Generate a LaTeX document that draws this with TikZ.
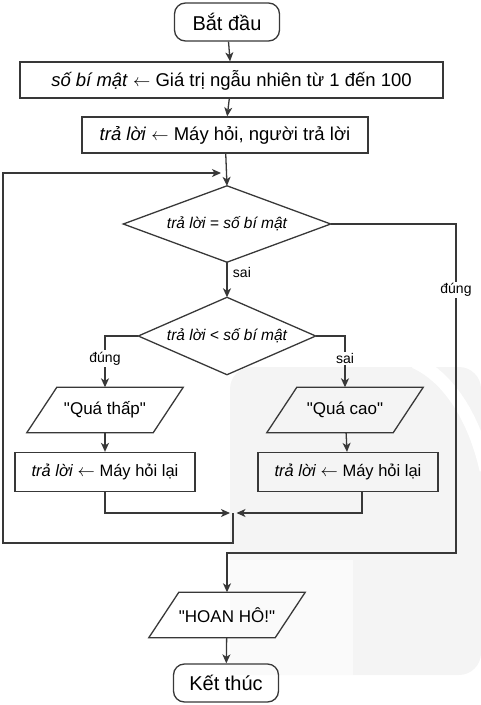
\documentclass[tikz,border=0pt]{standalone}
\usepackage{fontspec}
\setmainfont{Liberation Sans}[Ligatures=TeXOff]
\usetikzlibrary{arrows.meta,calc}
\newcommand\drawio[1]{\draw[line] ($(#1.north west)+(15,0)$) -- ($(#1.north east)+(15,0)$) -- ($(#1.south east)-(15,0)$) -- ($(#1.south west)-(15,0)$) -- cycle;}
\newcommand\drawdia[1]{\draw[line] (#1.west) -- (#1.north) -- (#1.east) -- (#1.south) -- cycle;}
\newcommand\larr{\ $\leftarrow$\ }
\begin{document}
\begin{tikzpicture}[x=1pt,y=-1pt,
  line/.style={draw=black!78, line width=1.3pt, line join=miter},
  arr/.style={draw=black!78, line width=1.3pt, -{Stealth[length=9pt,width=8pt,inset=2.5pt]}},
  term/.style={line, rectangle, rounded corners=11pt, minimum width=105pt, minimum height=38pt, inner sep=0pt, font=\fontsize{20}{24}\selectfont},
  proc/.style={line, rectangle, minimum height=36pt, inner sep=0pt, font=\fontsize{18.5}{22}\selectfont},
  procs/.style={line, rectangle, minimum width=180pt, minimum height=39pt, inner sep=0pt, font=\fontsize{16.5}{20}\selectfont},
  dia/.style={rectangle, inner sep=0pt, font=\fontsize{15.5}{19}\selectfont\itshape},
  io/.style={rectangle, minimum width=126pt, minimum height=45pt, inner sep=0pt, font=\fontsize{17}{20}\selectfont},
  lab/.style={fill=white, inner sep=1.5pt, font=\fontsize{14}{17}\selectfont},
]
\useasboundingbox (0,0) rectangle (481,705);
% watermark
\fill[gray!9, rounded corners=22pt] (230,675) -- (230,367) -- (481,367) -- (481,675) -- cycle;
\fill[gray!4] (230,560) -- (353,560) -- (353,675) -- (230,675) -- cycle;
\draw[white, line width=13pt] (415,362) .. controls (450,378) and (475,420) .. (486,470);

% nodes
\node[term] (start) at (227,22) {Bắt đầu};
\node[proc, minimum width=423pt] (b1) at (231.5,80) {\textit{số bí mật}\larr Giá trị ngẫu nhiên từ 1 đến 100};
\node[proc, minimum width=286pt] (b2) at (225,135) {\textit{trả lời}\larr Máy hỏi, người trả lời};
\node[dia, minimum width=207pt, minimum height=76pt] (d1) at (227,224) {trả lời = số bí mật};
\drawdia{d1}
\node[dia, minimum width=177pt, minimum height=77pt] (d2) at (227,336) {trả lời < số bí mật};
\drawdia{d2}
\node[io] (q1) at (105,410) {"Quá thấp"};
\drawio{q1}
\node[io] (q2) at (345,410) {"Quá cao"};
\drawio{q2}
\node[procs] (r1) at (105,472) {\textit{trả lời}\larr Máy hỏi lại};
\node[procs] (r2) at (348,472) {\textit{trả lời}\larr Máy hỏi lại};
\node[io] (hoan) at (227,615) {"HOAN HÔ!"};
\drawio{hoan}
\node[term] (end) at (226,683) {Kết thúc};

\coordinate (j) at (227,173);
\coordinate (m) at (233,513);
\coordinate (r2b) at (362,491.5);
\coordinate (loopL) at (3,543);
\coordinate (rc) at (456,553);

% connectors
\draw[arr] (start) -- (b1);
\draw[arr] (b1) -- (b2);
\draw[arr] (b2) -- (d1.north);
\draw[arr] (d1.south) -- node[right, font=\fontsize{14}{17}\selectfont, pos=0.3, xshift=2pt] {sai} (d2.north);
\draw[arr] (d1.east) -| node[lab, pos=0.6] {đúng} (rc) -| (hoan.north);
\draw[arr] (d2.west) -| node[lab, pos=0.72] {đúng} (q1.north);
\draw[arr] (d2.east) -| node[lab, pos=0.72] {sai} (q2.north);
\draw[arr] (q1) -- (r1);
\draw[arr] (q2) -- (r2);
\draw[arr, shorten >=3pt] (r1.south) |- (m);
\draw[arr, shorten >=3.5pt] (r2b) |- (m);
\draw[arr, shorten >=6pt] (m) |- (loopL) |- (j);
\draw[arr] (hoan) -- (end);
\end{tikzpicture}
\end{document}
